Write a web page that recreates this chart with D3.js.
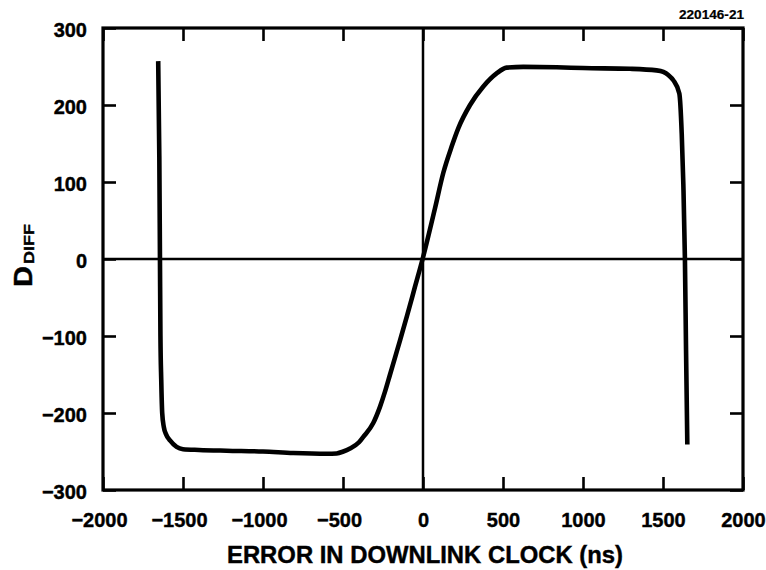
<!DOCTYPE html>
<html>
<head>
<meta charset="utf-8">
<script src="https://cdn.jsdelivr.net/npm/d3@7"></script>
<style>
  html, body { margin: 0; padding: 0; background: #fff; }
  svg { display: block; }
  text { font-family: "Liberation Sans", Arial, Helvetica, sans-serif; font-weight: bold; fill: #000; stroke: #000; stroke-width: 0.4px; }
</style>
</head>
<body>
<svg id="chart" width="766" height="570"></svg>
<script>
// ---- data ----
const errorNs = [-1655, -1648, -1644, -1641, -1636, -1630, -1620, -1605, -1580, -1540, -1500, -1400, -1227, -1000, -811, -600, -540, -498, -456, -400, -373, -311, -269, -237, -206, -175, -144, -100, -50, 0, 75, 127, 179, 221, 294, 377, 460, 523, 627, 835, 1000, 1294, 1460, 1502, 1533, 1565, 1602, 1617, 1627, 1637, 1644, 1652];
const dDiff   = [257, 133, 0, -100, -157, -200, -218, -228, -236, -244, -247, -248, -249, -250, -252, -253, -252.5, -250, -246, -238, -231, -213, -192, -172, -150, -128, -106, -74, -36, 2, 66, 112, 146, 170, 200, 224, 241, 248.5, 249.5, 249, 248, 247, 245, 243, 239, 232, 215, 163, 98, 0, -118, -241];
const xTicks = [-2000, -1500, -1000, -500, 0, 500, 1000, 1500, 2000];
const yTicks = [-300, -200, -100, 0, 100, 200, 300];
const xTitle = "ERROR IN DOWNLINK CLOCK (ns)";
const yTitleMain = "D";
const yTitleSub = "DIFF";
const figId = "220146-21";

// ---- layout ----
const svg = d3.select("#chart");
const m = { left: 103, top: 28 };
const W = 640, H = 462;

const x = d3.scaleLinear().domain([-2000, 2000]).range([m.left, m.left + W]);
const y = d3.scaleLinear().domain([-300, 300]).range([m.top + H, m.top]);

svg.append("rect").attr("width", 766).attr("height", 570).attr("fill", "#fff");

const tickLen = 13;
const fmt = d3.format("d");

const gB = svg.append("g").attr("transform", `translate(0,${m.top + H})`)
  .call(d3.axisBottom(x).tickValues(xTicks).tickSize(-tickLen).tickSizeOuter(0).tickFormat(fmt));
const gL = svg.append("g").attr("transform", `translate(${m.left},0)`)
  .call(d3.axisLeft(y).tickValues(yTicks).tickSize(-tickLen).tickSizeOuter(0).tickFormat(fmt));
const gT = svg.append("g").attr("transform", `translate(0,${m.top})`)
  .call(d3.axisTop(x).tickValues(xTicks).tickSize(-tickLen).tickSizeOuter(0).tickFormat(""));
const gR = svg.append("g").attr("transform", `translate(${m.left + W},0)`)
  .call(d3.axisRight(y).tickValues(yTicks).tickSize(-tickLen).tickSizeOuter(0).tickFormat(""));

[gB, gL, gT, gR].forEach(g => {
  g.select(".domain").remove();
  g.selectAll(".tick line").attr("stroke", "#000").attr("stroke-width", 2.6);
});

gB.selectAll(".tick text")
  .attr("font-size", 20).attr("font-family", null).attr("fill", null)
  .attr("y", 0).attr("dy", 37)
  .attr("dx", d => d < 0 ? -4 : 0);
gL.selectAll(".tick text")
  .attr("font-size", 20).attr("font-family", null).attr("fill", null)
  .attr("x", -16).attr("dy", "0.42em");

// zero lines
svg.append("line")
  .attr("x1", x(0)).attr("x2", x(0)).attr("y1", y(300)).attr("y2", y(-300))
  .attr("stroke", "#000").attr("stroke-width", 2.5);
svg.append("line")
  .attr("x1", x(-2000)).attr("x2", x(2000)).attr("y1", y(0)).attr("y2", y(0))
  .attr("stroke", "#000").attr("stroke-width", 2.5);

// frame
svg.append("rect")
  .attr("x", m.left).attr("y", m.top).attr("width", W).attr("height", H)
  .attr("fill", "none").attr("stroke", "#000").attr("stroke-width", 3.2);

// curve
const pts = errorNs.map((v, i) => [v, dDiff[i]]);
const line = d3.line().x(d => x(d[0])).y(d => y(d[1])).curve(d3.curveMonotoneX);
svg.append("path").datum(pts)
  .attr("d", line)
  .attr("fill", "none").attr("stroke", "#000")
  .attr("stroke-width", 4.6).attr("stroke-linejoin", "round").attr("stroke-linecap", "butt");

// titles
svg.append("text")
  .attr("x", 425).attr("y", 563).attr("text-anchor", "middle")
  .attr("font-size", 23).attr("textLength", 396).attr("lengthAdjust", "spacingAndGlyphs")
  .text(xTitle);

svg.append("text")
  .attr("transform", "translate(32,287) rotate(-90)")
  .attr("font-size", 25).attr("textLength", 21).attr("lengthAdjust", "spacingAndGlyphs")
  .text(yTitleMain);
svg.append("text")
  .attr("transform", "translate(34,264) rotate(-90)")
  .attr("font-size", 15).attr("textLength", 40).attr("lengthAdjust", "spacingAndGlyphs")
  .text(yTitleSub);

svg.append("text")
  .attr("x", 744).attr("y", 18.5).attr("text-anchor", "end")
  .attr("font-size", 12.5).attr("textLength", 65).attr("lengthAdjust", "spacingAndGlyphs")
  .style("stroke-width", "0.2px")
  .text(figId);
</script>
</body>
</html>
